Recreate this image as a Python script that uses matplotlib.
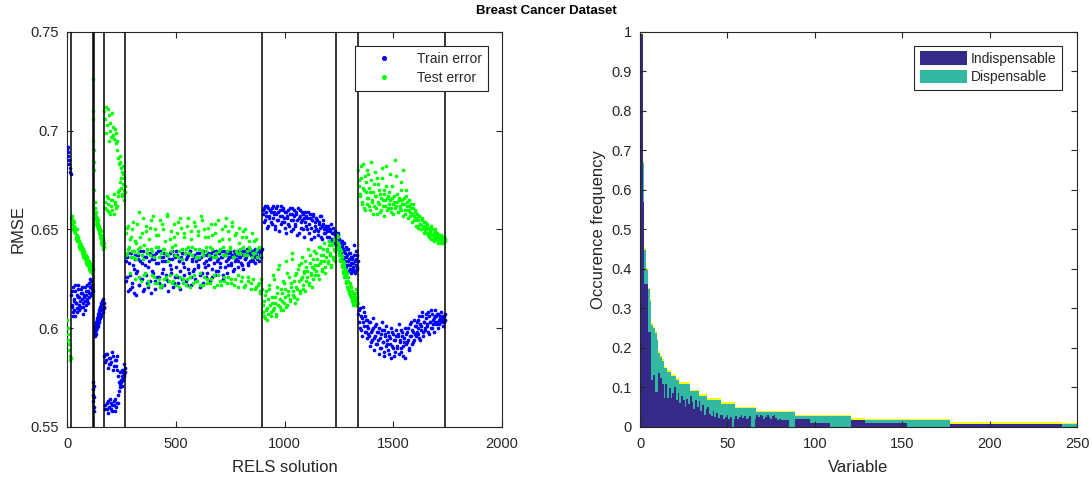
import numpy as np
import matplotlib
matplotlib.use("Agg")
import matplotlib.pyplot as plt
from matplotlib.patches import Patch
from matplotlib.lines import Line2D

plt.rcParams['font.family'] = ['Liberation Sans', 'DejaVu Sans']

# ---------------- Left panel data (RELS solutions) ----------------
segment_bounds = [0, 18, 118, 126, 171, 268, 898, 1238, 1338, 1740]

train_s0 = [0.691, 0.689, 0.692, 0.687, 0.685, 0.683, 0.679, 0.681, 0.678]
test_s0 = [0.604, 0.600, 0.597, 0.594, 0.592, 0.589, 0.586, 0.584, 0.585]

train_s1 = [0.617, 0.612, 0.608, 0.621, 0.615, 0.606, 0.619, 0.613, 0.610, 0.622,
            0.616, 0.609, 0.614, 0.620, 0.611, 0.618, 0.613, 0.607, 0.616, 0.621,
            0.612, 0.617, 0.614, 0.619, 0.623, 0.616, 0.621, 0.618, 0.624, 0.620]
train_s1b = [0.611, 0.619, 0.606, 0.614, 0.609, 0.622, 0.613, 0.617, 0.608, 0.620,
             0.612, 0.616, 0.610, 0.618, 0.615, 0.621, 0.611, 0.617, 0.614, 0.609,
             0.619, 0.615, 0.622, 0.613, 0.618, 0.621, 0.625, 0.617, 0.622, 0.619]
test_s1 = [0.656, 0.653, 0.655, 0.651, 0.652, 0.648, 0.649, 0.646, 0.647, 0.644,
           0.645, 0.642, 0.643, 0.640, 0.641, 0.639, 0.640, 0.637, 0.638, 0.636,
           0.637, 0.634, 0.635, 0.633, 0.634, 0.631, 0.632, 0.630, 0.631, 0.629]
test_s1b = [0.653, 0.657, 0.650, 0.654, 0.649, 0.651, 0.645, 0.650, 0.644, 0.646,
            0.641, 0.644, 0.640, 0.642, 0.638, 0.641, 0.636, 0.639, 0.635, 0.637,
            0.633, 0.636, 0.632, 0.634, 0.630, 0.633, 0.629, 0.631, 0.628, 0.630]

train_s2 = [0.573, 0.569, 0.566, 0.563, 0.560, 0.571, 0.558, 0.565]
test_s2 = [0.726, 0.710, 0.706, 0.695, 0.690, 0.684, 0.680, 0.670]

train_s3 = [0.598, 0.601, 0.597, 0.603, 0.600, 0.605, 0.602, 0.607, 0.604, 0.609,
            0.611, 0.606, 0.612, 0.610, 0.614, 0.608, 0.613, 0.611]
train_s3b = [0.600, 0.596, 0.602, 0.599, 0.604, 0.601, 0.606, 0.603, 0.608, 0.605,
             0.610, 0.607, 0.613, 0.609, 0.612, 0.615, 0.610, 0.613]
test_s3 = [0.664, 0.658, 0.655, 0.657, 0.652, 0.654, 0.650, 0.653, 0.648, 0.651,
           0.647, 0.645, 0.649, 0.644, 0.646, 0.642, 0.645, 0.641]
test_s3b = [0.661, 0.656, 0.659, 0.653, 0.656, 0.651, 0.655, 0.649, 0.652, 0.646,
            0.650, 0.643, 0.647, 0.642, 0.644, 0.640, 0.643, 0.641]

train_s4 = [0.586, 0.561, 0.584, 0.559, 0.587, 0.563, 0.582, 0.560, 0.585, 0.562,
            0.583, 0.558, 0.586, 0.561, 0.581, 0.564, 0.584, 0.560, 0.579, 0.562,
            0.576, 0.568, 0.572, 0.571, 0.574, 0.576, 0.575, 0.578, 0.577, 0.580]
train_s4b = [0.583, 0.559, 0.587, 0.562, 0.580, 0.557, 0.585, 0.564, 0.582, 0.559,
             0.588, 0.561, 0.579, 0.563, 0.584, 0.558, 0.581, 0.562, 0.586, 0.566,
             0.573, 0.570, 0.578, 0.573, 0.571, 0.579, 0.574, 0.576, 0.582, 0.578]
test_s4 = [0.710, 0.664, 0.712, 0.660, 0.703, 0.666, 0.708, 0.659, 0.700, 0.662,
           0.697, 0.665, 0.702, 0.658, 0.696, 0.663, 0.699, 0.661, 0.695, 0.667,
           0.686, 0.670, 0.684, 0.676, 0.681, 0.668, 0.678, 0.673, 0.665, 0.672]
test_s4b = [0.706, 0.661, 0.699, 0.667, 0.711, 0.663, 0.695, 0.658, 0.704, 0.665,
            0.709, 0.660, 0.698, 0.668, 0.701, 0.664, 0.694, 0.662, 0.690, 0.669,
            0.683, 0.674, 0.687, 0.671, 0.679, 0.667, 0.682, 0.670, 0.676, 0.669]

train_s5 = [0.624, 0.636, 0.619, 0.633, 0.627, 0.638, 0.621, 0.630, 0.635, 0.617,
            0.629, 0.637, 0.622, 0.634, 0.625, 0.639, 0.620, 0.632, 0.636, 0.623,
            0.631, 0.638, 0.618, 0.635, 0.628, 0.637, 0.624, 0.633, 0.639, 0.626,
            0.636, 0.621, 0.634, 0.630, 0.638, 0.625, 0.637, 0.619, 0.635, 0.632,
            0.628, 0.639, 0.623, 0.636, 0.631, 0.637, 0.626, 0.634, 0.620, 0.638,
            0.633, 0.627, 0.638, 0.624, 0.636, 0.630, 0.639, 0.622, 0.635, 0.629,
            0.637, 0.625, 0.634, 0.631, 0.638, 0.621, 0.636, 0.628, 0.639, 0.633,
            0.626, 0.637, 0.632, 0.635, 0.624, 0.638, 0.630, 0.636, 0.627, 0.639,
            0.634, 0.629, 0.638, 0.633, 0.636, 0.625, 0.639, 0.631, 0.637, 0.628,
            0.635, 0.638, 0.632, 0.636, 0.629, 0.639, 0.634, 0.637, 0.631, 0.638,
            0.636, 0.633, 0.639, 0.630, 0.637, 0.635, 0.638, 0.632, 0.640, 0.634,
            0.637, 0.635, 0.639, 0.633, 0.638, 0.636, 0.640, 0.634, 0.637, 0.639]
train_s5b = [0.634, 0.626, 0.638, 0.620, 0.636, 0.623, 0.632, 0.618, 0.637, 0.628,
             0.635, 0.622, 0.639, 0.625, 0.633, 0.619, 0.636, 0.627, 0.638, 0.621,
             0.634, 0.624, 0.637, 0.629, 0.635, 0.620, 0.638, 0.626, 0.633, 0.623,
             0.639, 0.628, 0.636, 0.622, 0.634, 0.627, 0.637, 0.624, 0.638, 0.630,
             0.635, 0.621, 0.637, 0.626, 0.639, 0.623, 0.634, 0.629, 0.636, 0.625,
             0.638, 0.631, 0.635, 0.622, 0.637, 0.628, 0.639, 0.626, 0.634, 0.630,
             0.636, 0.624, 0.638, 0.632, 0.635, 0.627, 0.639, 0.623, 0.637, 0.631,
             0.634, 0.628, 0.638, 0.635, 0.636, 0.626, 0.639, 0.633, 0.637, 0.629,
             0.635, 0.638, 0.631, 0.636, 0.639, 0.627, 0.637, 0.634, 0.638, 0.632,
             0.636, 0.639, 0.633, 0.637, 0.630, 0.638, 0.635, 0.639, 0.634, 0.636,
             0.638, 0.632, 0.637, 0.639, 0.635, 0.636, 0.640, 0.633, 0.638, 0.637,
             0.639, 0.634, 0.636, 0.640, 0.637, 0.635, 0.639, 0.638, 0.636, 0.640]
test_s5 = [0.648, 0.638, 0.652, 0.641, 0.645, 0.636, 0.650, 0.639, 0.644, 0.635,
           0.653, 0.640, 0.626, 0.646, 0.637, 0.656, 0.642, 0.628, 0.649, 0.638,
           0.624, 0.651, 0.640, 0.627, 0.657, 0.636, 0.623, 0.647, 0.641, 0.625,
           0.655, 0.638, 0.622, 0.650, 0.640, 0.626, 0.658, 0.637, 0.624, 0.645,
           0.639, 0.623, 0.653, 0.642, 0.627, 0.648, 0.636, 0.621, 0.656, 0.640,
           0.625, 0.646, 0.638, 0.622, 0.652, 0.641, 0.626, 0.649, 0.637, 0.623,
           0.654, 0.640, 0.624, 0.647, 0.636, 0.628, 0.657, 0.639, 0.622, 0.650,
           0.641, 0.625, 0.646, 0.637, 0.623, 0.653, 0.640, 0.627, 0.648, 0.636,
           0.622, 0.655, 0.639, 0.624, 0.645, 0.641, 0.626, 0.652, 0.637, 0.623,
           0.649, 0.640, 0.625, 0.654, 0.636, 0.622, 0.647, 0.639, 0.627, 0.651,
           0.638, 0.624, 0.646, 0.641, 0.621, 0.650, 0.637, 0.626, 0.644, 0.640,
           0.623, 0.648, 0.638, 0.620, 0.645, 0.636, 0.622, 0.641, 0.619, 0.625]
test_s5b = [0.637, 0.651, 0.640, 0.628, 0.646, 0.639, 0.654, 0.636, 0.625, 0.643,
            0.638, 0.659, 0.641, 0.624, 0.648, 0.635, 0.627, 0.652, 0.640, 0.622,
            0.645, 0.637, 0.655, 0.639, 0.626, 0.650, 0.641, 0.623, 0.647, 0.636,
            0.621, 0.653, 0.640, 0.625, 0.644, 0.638, 0.657, 0.634, 0.627, 0.649,
            0.641, 0.624, 0.646, 0.637, 0.622, 0.654, 0.639, 0.626, 0.651, 0.635,
            0.623, 0.648, 0.640, 0.625, 0.656, 0.638, 0.621, 0.645, 0.641, 0.627,
            0.652, 0.636, 0.624, 0.649, 0.640, 0.622, 0.655, 0.637, 0.626, 0.646,
            0.639, 0.623, 0.651, 0.641, 0.625, 0.647, 0.636, 0.621, 0.653, 0.638,
            0.627, 0.644, 0.640, 0.622, 0.650, 0.637, 0.624, 0.656, 0.639, 0.626,
            0.645, 0.641, 0.623, 0.652, 0.636, 0.625, 0.648, 0.638, 0.621, 0.643,
            0.640, 0.626, 0.649, 0.637, 0.622, 0.646, 0.639, 0.624, 0.641, 0.620,
            0.636, 0.625, 0.644, 0.638, 0.621, 0.640, 0.623, 0.618, 0.637, 0.620]

train_s6 = [0.658, 0.661, 0.655, 0.659, 0.662, 0.652, 0.657, 0.660, 0.654, 0.661,
            0.656, 0.659, 0.650, 0.658, 0.662, 0.655, 0.660, 0.653, 0.657, 0.661,
            0.654, 0.659, 0.648, 0.656, 0.660, 0.652, 0.658, 0.655, 0.661, 0.650,
            0.657, 0.653, 0.659, 0.647, 0.656, 0.660, 0.651, 0.655, 0.658, 0.646,
            0.654, 0.657, 0.650, 0.659, 0.653, 0.656, 0.645, 0.655, 0.658, 0.649,
            0.652, 0.656, 0.647, 0.654, 0.651, 0.657, 0.645, 0.653, 0.650, 0.648,
            0.652, 0.646, 0.650, 0.644, 0.649, 0.653, 0.645, 0.648, 0.643, 0.647]
train_s6b = [0.660, 0.654, 0.662, 0.657, 0.651, 0.661, 0.656, 0.659, 0.653, 0.662,
             0.658, 0.652, 0.661, 0.655, 0.659, 0.649, 0.657, 0.662, 0.654, 0.660,
             0.656, 0.651, 0.659, 0.657, 0.653, 0.661, 0.649, 0.658, 0.655, 0.660,
             0.652, 0.658, 0.655, 0.661, 0.648, 0.657, 0.654, 0.659, 0.650, 0.656,
             0.659, 0.652, 0.656, 0.648, 0.658, 0.651, 0.655, 0.657, 0.646, 0.654,
             0.650, 0.655, 0.649, 0.653, 0.657, 0.646, 0.652, 0.655, 0.648, 0.651,
             0.649, 0.652, 0.646, 0.650, 0.644, 0.648, 0.651, 0.645, 0.649, 0.642]
test_s6 = [0.608, 0.614, 0.605, 0.619, 0.610, 0.607, 0.622, 0.612, 0.606, 0.616,
           0.609, 0.625, 0.613, 0.607, 0.618, 0.630, 0.611, 0.620, 0.614, 0.609,
           0.623, 0.616, 0.634, 0.612, 0.619, 0.626, 0.615, 0.621, 0.638, 0.617,
           0.624, 0.613, 0.628, 0.620, 0.632, 0.618, 0.625, 0.636, 0.622, 0.629,
           0.619, 0.631, 0.626, 0.640, 0.623, 0.633, 0.628, 0.621, 0.635, 0.630,
           0.627, 0.638, 0.632, 0.625, 0.641, 0.634, 0.629, 0.637, 0.643, 0.631,
           0.636, 0.640, 0.633, 0.644, 0.638, 0.632, 0.642, 0.635, 0.645, 0.639]
test_s6b = [0.612, 0.606, 0.617, 0.609, 0.604, 0.615, 0.620, 0.608, 0.613, 0.627,
            0.610, 0.616, 0.606, 0.621, 0.612, 0.632, 0.615, 0.609, 0.618, 0.624,
            0.613, 0.620, 0.611, 0.628, 0.617, 0.614, 0.623, 0.635, 0.619, 0.616,
            0.627, 0.621, 0.615, 0.630, 0.624, 0.619, 0.633, 0.626, 0.620, 0.628,
            0.634, 0.624, 0.629, 0.622, 0.637, 0.627, 0.631, 0.625, 0.639, 0.632,
            0.629, 0.635, 0.627, 0.641, 0.633, 0.637, 0.630, 0.640, 0.634, 0.628,
            0.639, 0.634, 0.642, 0.637, 0.631, 0.643, 0.636, 0.640, 0.634, 0.641]

train_s7 = [0.646, 0.643, 0.648, 0.640, 0.645, 0.642, 0.638, 0.644, 0.641, 0.636,
            0.643, 0.639, 0.634, 0.641, 0.637, 0.632, 0.640, 0.635, 0.630, 0.638,
            0.633, 0.629, 0.636, 0.631, 0.642, 0.628, 0.634, 0.639, 0.630, 0.637]
train_s7b = [0.644, 0.647, 0.641, 0.645, 0.639, 0.643, 0.637, 0.642, 0.635, 0.640,
             0.633, 0.638, 0.631, 0.636, 0.640, 0.629, 0.634, 0.638, 0.632, 0.636,
             0.628, 0.635, 0.630, 0.633, 0.637, 0.629, 0.632, 0.635, 0.631, 0.634]
test_s7 = [0.644, 0.640, 0.646, 0.637, 0.642, 0.634, 0.639, 0.631, 0.636, 0.628,
           0.633, 0.626, 0.630, 0.624, 0.628, 0.621, 0.626, 0.619, 0.623, 0.617,
           0.621, 0.615, 0.619, 0.613, 0.617, 0.612, 0.615, 0.620, 0.613, 0.616]
test_s7b = [0.647, 0.641, 0.643, 0.638, 0.640, 0.635, 0.637, 0.632, 0.634, 0.629,
            0.631, 0.627, 0.629, 0.623, 0.626, 0.620, 0.624, 0.618, 0.622, 0.616,
            0.619, 0.614, 0.618, 0.612, 0.616, 0.614, 0.618, 0.612, 0.615, 0.613]

train_s8 = [0.607, 0.603, 0.610, 0.599, 0.605, 0.611, 0.601, 0.606, 0.598, 0.604,
            0.600, 0.596, 0.603, 0.593, 0.599, 0.605, 0.595, 0.601, 0.592, 0.598,
            0.594, 0.600, 0.590, 0.597, 0.603, 0.593, 0.599, 0.588, 0.596, 0.601,
            0.592, 0.598, 0.587, 0.595, 0.600, 0.591, 0.597, 0.586, 0.594, 0.599,
            0.590, 0.596, 0.602, 0.593, 0.588, 0.598, 0.591, 0.595, 0.585, 0.597,
            0.593, 0.600, 0.589, 0.596, 0.603, 0.592, 0.598, 0.594, 0.601, 0.596,
            0.603, 0.597, 0.600, 0.606, 0.594, 0.601, 0.608, 0.598, 0.603, 0.599,
            0.605, 0.601, 0.608, 0.597, 0.603, 0.609, 0.600, 0.604, 0.598, 0.606,
            0.602, 0.607, 0.600, 0.604, 0.606, 0.603, 0.605, 0.601, 0.606, 0.604]
train_s8b = [0.609, 0.600, 0.606, 0.596, 0.603, 0.608, 0.598, 0.604, 0.595, 0.601,
             0.597, 0.603, 0.591, 0.598, 0.594, 0.600, 0.589, 0.596, 0.602, 0.592,
             0.598, 0.587, 0.595, 0.590, 0.599, 0.593, 0.586, 0.597, 0.591, 0.594,
             0.589, 0.596, 0.592, 0.585, 0.598, 0.590, 0.594, 0.588, 0.596, 0.591,
             0.597, 0.587, 0.594, 0.599, 0.590, 0.596, 0.586, 0.593, 0.600, 0.592,
             0.598, 0.594, 0.590, 0.602, 0.596, 0.599, 0.593, 0.604, 0.597, 0.601,
             0.598, 0.604, 0.595, 0.602, 0.599, 0.606, 0.596, 0.603, 0.600, 0.607,
             0.602, 0.598, 0.606, 0.603, 0.600, 0.607, 0.602, 0.605, 0.609, 0.603,
             0.606, 0.603, 0.607, 0.602, 0.605, 0.608, 0.604, 0.606, 0.603, 0.607]
test_s8 = [0.680, 0.672, 0.667, 0.676, 0.663, 0.683, 0.670, 0.660, 0.674, 0.666,
           0.678, 0.662, 0.669, 0.684, 0.665, 0.658, 0.673, 0.667, 0.661, 0.676,
           0.664, 0.670, 0.659, 0.666, 0.681, 0.662, 0.668, 0.657, 0.665, 0.672,
           0.660, 0.667, 0.663, 0.678, 0.661, 0.666, 0.658, 0.664, 0.685, 0.662,
           0.668, 0.659, 0.665, 0.661, 0.674, 0.663, 0.657, 0.666, 0.660, 0.670,
           0.662, 0.656, 0.665, 0.659, 0.661, 0.654, 0.663, 0.657, 0.660, 0.652,
           0.658, 0.655, 0.651, 0.657, 0.653, 0.650, 0.656, 0.652, 0.648, 0.654,
           0.650, 0.653, 0.647, 0.651, 0.648, 0.645, 0.650, 0.647, 0.644, 0.649,
           0.646, 0.648, 0.644, 0.647, 0.645, 0.643, 0.646, 0.644, 0.645, 0.644]
test_s8b = [0.675, 0.668, 0.682, 0.664, 0.671, 0.661, 0.677, 0.669, 0.663, 0.680,
            0.666, 0.671, 0.660, 0.675, 0.664, 0.669, 0.662, 0.679, 0.667, 0.658,
            0.673, 0.663, 0.668, 0.660, 0.676, 0.665, 0.670, 0.662, 0.682, 0.666,
            0.661, 0.669, 0.665, 0.659, 0.672, 0.663, 0.667, 0.661, 0.677, 0.664,
            0.659, 0.666, 0.662, 0.670, 0.660, 0.665, 0.680, 0.663, 0.658, 0.667,
            0.664, 0.660, 0.662, 0.657, 0.663, 0.658, 0.661, 0.655, 0.659, 0.656,
            0.655, 0.652, 0.657, 0.653, 0.650, 0.655, 0.651, 0.654, 0.649, 0.652,
            0.648, 0.651, 0.646, 0.649, 0.652, 0.647, 0.645, 0.648, 0.646, 0.650,
            0.645, 0.647, 0.643, 0.646, 0.644, 0.647, 0.645, 0.643, 0.646, 0.645]

train_segments = [[train_s0], [train_s1, train_s1b], [train_s2], [train_s3, train_s3b],
                  [train_s4, train_s4b], [train_s5, train_s5b], [train_s6, train_s6b],
                  [train_s7, train_s7b], [train_s8, train_s8b]]
test_segments = [[test_s0], [test_s1, test_s1b], [test_s2], [test_s3, test_s3b],
                 [test_s4, test_s4b], [test_s5, test_s5b], [test_s6, test_s6b],
                 [test_s7, test_s7b], [test_s8, test_s8b]]

# ---------------- Right panel data (variable occurrence) ----------------
total_levels = [1.000, 0.673, 0.452, 0.402, 0.353, 0.323, 0.262, 0.254, 0.243, 0.223,
                0.192, 0.182, 0.172, 0.153, 0.143, 0.133, 0.123, 0.113, 0.094, 0.083,
                0.073, 0.062, 0.051, 0.041, 0.031, 0.021, 0.011]
total_runs = [1, 1, 1, 1, 1, 1, 1, 1, 1, 1,
              1, 1, 1, 2, 2, 3, 2, 6, 5, 5,
              8, 8, 12, 22, 32, 57, 73]

indisp_head = [0.995, 0.569, 0.361, 0.361, 0.241, 0.241, 0.119, 0.132, 0.089, 0.089,
               0.136, 0.123, 0.110, 0.073, 0.110, 0.073, 0.098, 0.073, 0.085, 0.100,
               0.068, 0.085, 0.060, 0.079, 0.068, 0.050, 0.072, 0.058, 0.079, 0.062,
               0.045, 0.068, 0.050, 0.066, 0.040, 0.055, 0.030, 0.045, 0.050, 0.034,
               0.028, 0.040, 0.025, 0.036, 0.022, 0.030, 0.030, 0.020, 0.025, 0.030,
               0.020, 0.025, 0.000, 0.020, 0.028, 0.020, 0.025, 0.030, 0.022, 0.027,
               0.020, 0.024, 0.028, 0.000, 0.000, 0.020,
               0.030, 0.025, 0.030, 0.028, 0.020, 0.026, 0.030, 0.025, 0.020, 0.028,
               0.030, 0.022, 0.018, 0.020, 0.018, 0.017, 0.018, 0.017, 0.018]
indisp_tail_levels = [0.000, 0.019, 0.0096, 0.000, 0.0177, 0.0096, 0.000, 0.0076, 0.000]
indisp_tail_runs = [3, 9, 11, 12, 8, 24, 25, 64, 9]
other_level = 0.004   # thin yellow third group on top

# ---------------- Figure ----------------
fig = plt.figure(figsize=(10.92, 4.79), dpi=100)
fig.suptitle('Breast Cancer Dataset', fontweight='bold', fontsize=9.5, y=0.99)

text_col = '#262626'

def style(ax):
    ax.tick_params(direction='in', top=True, right=True, length=4.5, width=0.8,
                   colors=text_col, labelsize=10.5)
    ax.tick_params(axis='x', pad=7)
    ax.tick_params(axis='y', pad=6)
    for s in ax.spines.values():
        s.set_color(text_col)
        s.set_linewidth(0.8)

# Left panel
ax1 = fig.add_axes([0.0614, 0.1086, 0.3983, 0.8246])
for i in range(len(train_segments)):
    lo, hi = segment_bounds[i], segment_bounds[i + 1]
    for series, col in ((train_segments[i], '#0000ff'), (test_segments[i], '#00ff00')):
        for j, vals in enumerate(series):
            n = len(vals)
            xs = lo + (np.arange(n) + 0.25 + 0.5 * j) * (hi - lo) / n
            ax1.scatter(xs, vals, s=7, color=col, linewidths=0, zorder=3)
for b in segment_bounds[1:]:
    ax1.axvline(b, color='black', lw=1.1, zorder=4)
ax1.set_xlim(0, 2000)
ax1.set_ylim(0.55, 0.75)
ax1.set_xticks([0, 500, 1000, 1500, 2000])
ax1.set_yticks([0.55, 0.6, 0.65, 0.7, 0.75])
ax1.set_yticklabels(['0.55', '0.6', '0.65', '0.7', '0.75'])
ax1.set_xlabel('RELS solution', fontsize=12, color=text_col, labelpad=6.5)
ax1.set_ylabel('RMSE', fontsize=12, color=text_col, labelpad=3)
style(ax1)
h1 = [Line2D([], [], ls='none', marker='o', ms=2.6, color='#0000ff'),
      Line2D([], [], ls='none', marker='o', ms=2.6, color='#00ff00')]
leg1 = ax1.legend(h1, ['Train error', 'Test error'], loc='upper right',
                  bbox_to_anchor=(0.9685, 0.965), borderaxespad=0, fontsize=10,
                  fancybox=False, framealpha=1, edgecolor=text_col,
                  handlelength=3.3, handletextpad=0.7, borderpad=0.45,
                  labelspacing=0.35, markerfirst=True)
leg1.get_frame().set_linewidth(0.8)
for t in leg1.get_texts():
    t.set_color(text_col)

# Right panel
ax2 = fig.add_axes([0.5861, 0.1086, 0.4002, 0.8246])
total = np.repeat(total_levels, total_runs)
indisp = np.concatenate([indisp_head, np.repeat(indisp_tail_levels, indisp_tail_runs)])
other = np.full(len(total), other_level)
disp = np.clip(total - indisp - other, 0, None)
var_idx = np.arange(1, len(total) + 1)
c_ind = (0.2081, 0.1663, 0.5292)
c_dis = (0.1986, 0.7214, 0.6310)
c_oth = (0.9763, 0.9831, 0.0538)
ax2.bar(var_idx, indisp, width=1.0, color=c_ind, linewidth=0, antialiased=False)
ax2.bar(var_idx, disp, width=1.0, bottom=indisp, color=c_dis, linewidth=0, antialiased=False)
ax2.bar(var_idx, other, width=1.0, bottom=indisp + disp, color=c_oth, linewidth=0,
        antialiased=False)
ax2.set_xlim(0, 250)
ax2.set_ylim(0, 1)
ax2.set_xticks([0, 50, 100, 150, 200, 250])
ax2.set_yticks(np.round(np.arange(0, 1.01, 0.1), 1))
ax2.set_yticklabels(['0', '0.1', '0.2', '0.3', '0.4', '0.5', '0.6', '0.7', '0.8', '0.9', '1'])
ax2.set_xlabel('Variable', fontsize=12, color=text_col, labelpad=6.5)
ax2.set_ylabel('Occurence frequency', fontsize=12, color=text_col, labelpad=4)
style(ax2)
h2 = [Patch(facecolor=c_ind, edgecolor='none'), Patch(facecolor=c_dis, edgecolor='none')]
leg2 = ax2.legend(h2, ['Indispensable', 'Dispensable'], loc='upper right',
                  bbox_to_anchor=(0.966, 0.965), borderaxespad=0, fontsize=10,
                  fancybox=False, framealpha=1, edgecolor=text_col,
                  handlelength=3.4, handleheight=1.1, handletextpad=0.3,
                  borderpad=0.4, labelspacing=0.3)
leg2.get_frame().set_linewidth(0.8)
for t in leg2.get_texts():
    t.set_color(text_col)

fig.savefig('out.png', dpi=100)
